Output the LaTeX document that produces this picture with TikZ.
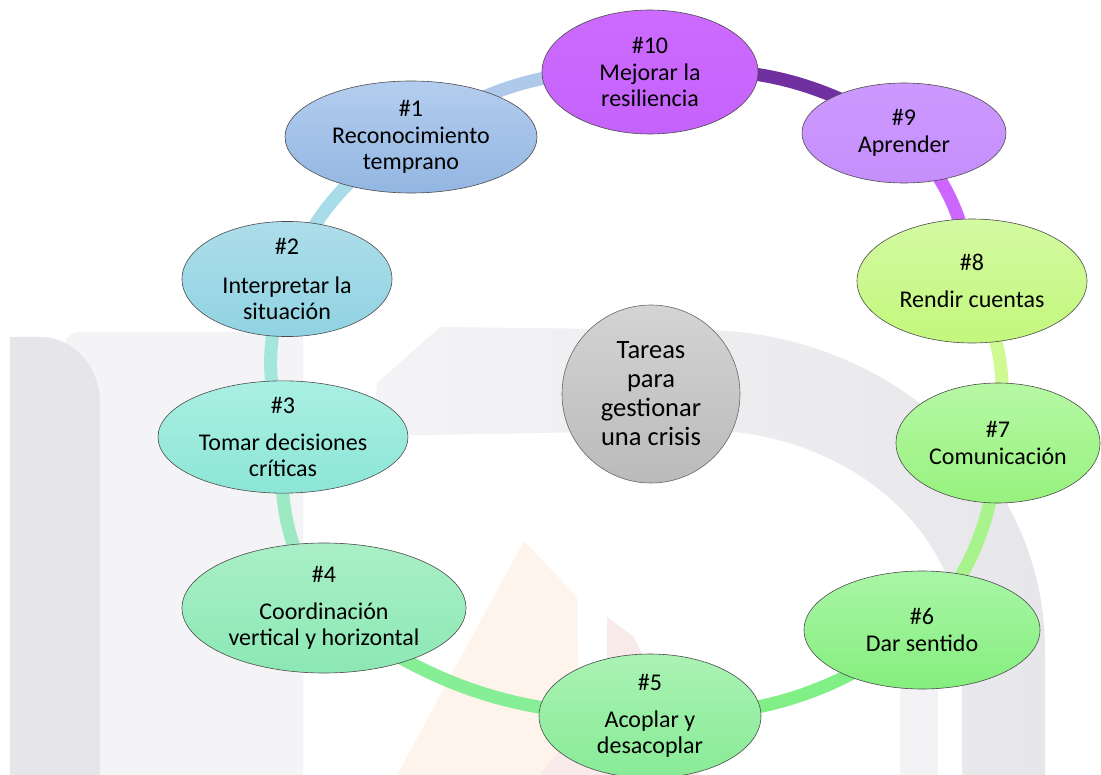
\documentclass[tikz,border=0pt]{standalone}
\usepackage{fontspec}
\setmainfont{Carlito}
\usetikzlibrary{shapes.geometric,backgrounds}

% fills
\definecolor{wmdark}{HTML}{E6E6EA}
\definecolor{wmlight}{HTML}{F4F4F6}
\definecolor{wmbandL}{HTML}{F4F4F6}
\definecolor{wmbandR}{HTML}{E7E7EB}
\definecolor{wmpale}{HTML}{F3F3F5}
\definecolor{wmorange}{HTML}{FEF4EC}
\definecolor{wmpink}{HTML}{F9EAEA}
% ring segments
\definecolor{lA}{HTML}{7030A0}
\definecolor{lB}{HTML}{CC66FF}
\definecolor{lC}{HTML}{CFF993}
\definecolor{lD}{HTML}{A9F38C}
\definecolor{lE}{HTML}{80EF85}
\definecolor{lF}{HTML}{86EF95}
\definecolor{lG}{HTML}{9CE9C4}
\definecolor{lH}{HTML}{A2E6DC}
\definecolor{lI}{HTML}{A8DCE8}
\definecolor{lJ}{HTML}{AFC9EA}

\begin{document}
\begin{tikzpicture}[x=1pt,y=1pt,
  stage/.style={ellipse, draw=black!70, line width=0.6pt, inner sep=0pt,
    align=center, font=\fontsize{24}{26.5}\selectfont},
  hub/.style={circle, draw=black!60, line width=0.6pt, inner sep=0pt,
    minimum size=178, align=center, font=\fontsize{26.5}{29}\selectfont,
    top color=black!17, bottom color=black!27},
  link/.style={line width=13pt},
]
\useasboundingbox (0,0) rectangle (1101,-775);

% the ten tasks
\node[stage, minimum width=216, minimum height=124,
  top color={rgb,255:red,205;green,107;blue,255}, bottom color={rgb,255:red,196;green,98;blue,251}]
  (n10) at (650,-72) {\#10\\Mejorar la\\resiliencia};
\node[stage, minimum width=204, minimum height=100,
  top color={rgb,255:red,204;green,153;blue,255}, bottom color={rgb,255:red,197;green,143;blue,251}]
  (n9) at (904,-133) {\#9\\Aprender};
\node[stage, minimum width=230, minimum height=124,
  top color={rgb,255:red,211;green,250;blue,162}, bottom color={rgb,255:red,195;green,247;blue,124}]
  (n8) at (972,-281) {\#8\\[10pt]Rendir cuentas};
\node[stage, minimum width=204, minimum height=120,
  top color={rgb,255:red,182;green,248;blue,164}, bottom color={rgb,255:red,151;green,242;blue,126}]
  (n7) at (998,-443) {\#7\\Comunicación};
\node[stage, minimum width=236, minimum height=118,
  top color={rgb,255:red,169;green,246;blue,166}, bottom color={rgb,255:red,133;green,238;blue,126}]
  (n6) at (922,-630) {\#6\\Dar sentido};
\node[stage, minimum width=222, minimum height=124,
  top color={rgb,255:red,170;green,242;blue,180}, bottom color={rgb,255:red,136;green,235;blue,150}]
  (n5) at (650,-716) {\#5\\[10pt]Acoplar y\\desacoplar};
\node[stage, minimum width=284, minimum height=130,
  top color={rgb,255:red,169;green,239;blue,199}, bottom color={rgb,255:red,140;green,232;blue,180}]
  (n4) at (324,-608) {\#4\\[10pt]Coordinación\\vertical y horizontal};
\node[stage, minimum width=250, minimum height=100,
  top color={rgb,255:red,170;green,239;blue,227}, bottom color={rgb,255:red,140;green,230;blue,214}]
  (n3) at (283,-437) {\#3\\[10pt]Tomar decisiones\\críticas};
\node[stage, minimum width=210, minimum height=112,
  top color={rgb,255:red,173;green,221;blue,234}, bottom color={rgb,255:red,144;green,211;blue,226}]
  (n2) at (287,-279) {\#2\\[12pt]Interpretar la\\situación};
\node[stage, minimum width=252, minimum height=112,
  top color={rgb,255:red,179;green,205;blue,238}, bottom color={rgb,255:red,147;green,182;blue,226}]
  (n1) at (411,-137) {\#1\\Reconocimiento\\temprano};

% centre
\node[hub] (hub) at (651,-394) {Tareas\\para\\gestionar\\una crisis};

\begin{pgfonlayer}{background}
  % faint backdrop
  \fill[white] (0,0) rectangle (1101,-775);
  \fill[wmlight] (65,-775) -- (65,-345) to[out=90,in=180] (80,-332) -- (303,-332) -- (303,-775) -- cycle;
  \fill[wmdark] (10,-775) -- (10,-337) -- (40,-337) to[out=0,in=90] (100,-403) -- (100,-775) -- cycle;
  \fill[wmpale] (900,-775) -- (900,-600) -- (938,-600) -- (938,-775) -- cycle;
  \shade[left color=wmbandL, right color=wmbandR] (440,-327) -- (700,-330)
    arc[start angle=90, end angle=0, x radius=345, y radius=320]
    -- (1045,-775) -- (962,-775) -- (962,-650)
    arc[start angle=0, end angle=90, x radius=262, y radius=220]
    -- (373,-436) -- (377,-383) -- cycle;
  \fill[wmorange] (524,-541) -- (577,-597) -- (580,-775) -- (397,-775) -- cycle;
  \fill[wmpink] (607,-617) -- (634,-637) -- (700,-775) -- (540,-775) -- (607,-690) -- cycle;

  % ring joining the tasks
  \draw[link, lA] (n10.center) to[bend left=18] (n9.center);
  \draw[link, lB] (n9.center) to[bend left=18] (n8.center);
  \draw[link, lC] (n8.center) to[bend left=18] (n7.center);
  \draw[link, lD] (n7.center) to[bend left=18] (n6.center);
  \draw[link, lE] (n6.center) to[bend left=18] (n5.center);
  \draw[link, lF] (n5.center) to[bend left=18] (n4.center);
  \draw[link, lG] (n4.center) to[bend left=18] (n3.center);
  \draw[link, lH] (n3.center) to[bend left=18] (n2.center);
  \draw[link, lI] (n2.center) to[bend left=18] (n1.center);
  \draw[link, lJ] (n1.center) to[bend left=18] (n10.center);
\end{pgfonlayer}
\end{tikzpicture}
\end{document}
